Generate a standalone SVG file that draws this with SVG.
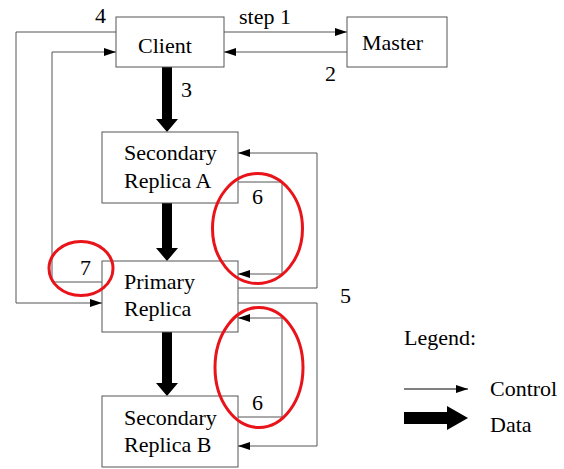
<svg xmlns="http://www.w3.org/2000/svg" width="564" height="469" viewBox="0 0 564 469">
<style>
.box{fill:#fff;stroke:#555;stroke-width:1}
.ctl{fill:none;stroke:#555;stroke-width:1}
.t{font-family:"Liberation Serif",serif;font-size:22px;fill:#000}
.red{fill:none;stroke:#e8141a;stroke-width:3}
.data{fill:#000}
</style>
<defs>
<marker id="ah" markerWidth="12" markerHeight="8" refX="12" refY="4" orient="auto" markerUnits="userSpaceOnUse">
<path d="M0,0 L12,4 L0,8 Z" fill="#000"/>
</marker>
</defs>
<rect width="564" height="469" fill="#fff"/>
<g id="connectors">
<path class="ctl" d="M224,32 L347,32" marker-end="url(#ah)"/>
<path class="ctl" d="M347,52 L224,52" marker-end="url(#ah)"/>
<path class="ctl" d="M116,32 L16,32 L16,303 L102,303" marker-end="url(#ah)"/>
<path class="ctl" d="M102,282 L52,282 L52,52 L116,52" marker-end="url(#ah)"/>
<path class="ctl" d="M238,288 L317,288 L317,153 L238,153" marker-end="url(#ah)"/>
<path class="ctl" d="M238,182 L282,182 L282,274 L238,274" marker-end="url(#ah)"/>
<path class="ctl" d="M238,303 L317,303 L317,446 L238,446" marker-end="url(#ah)"/>
<path class="ctl" d="M238,417 L282,417 L282,318 L238,318" marker-end="url(#ah)"/>
<path class="data" d="M162,67 L172,67 L172,119 L178,119 L167,132 L156,119 L162,119 Z"/>
<path class="data" d="M162,203 L172,203 L172,248 L178,248 L167,261 L156,248 L162,248 Z"/>
<path class="data" d="M162,332 L172,332 L172,383 L178,383 L167,396 L156,383 L162,383 Z"/>
</g>
<g id="client"><rect class="box" x="116" y="17" width="108" height="50"/><text class="t" x="138" y="53">Client</text></g>
<g id="master"><rect class="box" x="347" y="17" width="100" height="50"/><text class="t" x="362" y="50">Master</text></g>
<g id="secondaryA"><rect class="box" x="102" y="132" width="136" height="71"/><text class="t" x="124" y="160">Secondary</text><text class="t" x="124" y="188">Replica A</text></g>
<g id="primary"><rect class="box" x="102" y="261" width="136" height="71"/><text class="t" x="124" y="289">Primary</text><text class="t" x="124" y="316">Replica</text></g>
<g id="secondaryB"><rect class="box" x="102" y="396" width="136" height="71"/><text class="t" x="124" y="425">Secondary</text><text class="t" x="124" y="452">Replica B</text></g>
<g id="labels">
<text class="t" x="239" y="24">step 1</text>
<text class="t" x="95" y="23">4</text>
<text class="t" x="325" y="81">2</text>
<text class="t" x="181" y="97">3</text>
<text class="t" x="252" y="204">6</text>
<text class="t" x="80" y="275">7</text>
<text class="t" x="340" y="303">5</text>
<text class="t" x="252" y="410">6</text>
</g>
<g id="highlights">
<ellipse class="red" cx="257.5" cy="228.5" rx="45" ry="55"/>
<ellipse class="red" cx="81" cy="268.5" rx="32" ry="27"/>
<ellipse class="red" cx="259" cy="367.5" rx="44" ry="60"/>
</g>
<g id="legend">
<text class="t" x="404" y="345">Legend:</text>
<path class="ctl" d="M404,389 L468,389" style="stroke:#000" marker-end="url(#ah)"/>
<text class="t" x="490" y="396">Control</text>
<path class="data" d="M404,412 L447,412 L447,406 L468,418 L447,430 L447,424 L404,424 Z"/>
<text class="t" x="490" y="432">Data</text>
</g>
</svg>
